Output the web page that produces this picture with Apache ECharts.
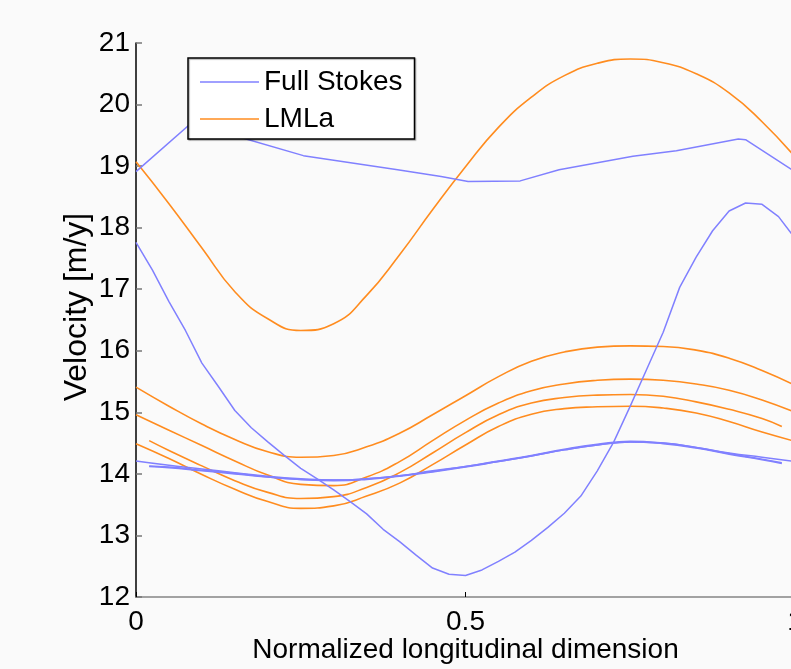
<!DOCTYPE html>
<html>
<head>
<meta charset="utf-8">
<script src="https://cdn.jsdelivr.net/npm/echarts@6/dist/echarts.min.js"></script>
<style>
  html, body { margin: 0; padding: 0; background: #fafafa; }
  #chart { width: 791px; height: 669px; }
</style>
</head>
<body>
<div id="chart"></div>
<script>
// Sample positions along the normalized longitudinal dimension
const xGrid = [0, 0.05, 0.10, 0.15, 0.20, 0.25, 0.30, 0.35, 0.40, 0.45, 0.50,
               0.55, 0.60, 0.65, 0.70, 0.75, 0.80, 0.85, 0.90, 0.95, 1.00];
const xShort = [0.02, 0.05, 0.10, 0.15, 0.20, 0.25, 0.30, 0.35, 0.40, 0.45, 0.50,
                0.55, 0.60, 0.65, 0.70, 0.75, 0.80, 0.85, 0.90, 0.95, 0.98];
const xDip = [0, 0.025, 0.05, 0.075, 0.10, 0.125, 0.15, 0.175, 0.20, 0.225, 0.25,
              0.275, 0.30, 0.325, 0.35, 0.375, 0.40, 0.425, 0.45, 0.475, 0.50,
              0.525, 0.55, 0.575, 0.60, 0.625, 0.65, 0.675, 0.70, 0.725, 0.75,
              0.775, 0.80, 0.825, 0.85, 0.875, 0.90, 0.925, 0.95, 0.975, 1.00];
const xTop = [0, 0.10, 0.154, 0.254, 0.397, 0.463, 0.504, 0.583, 0.642, 0.754, 0.82, 0.914, 0.925, 1.00];

// Full Stokes velocities [m/y]
const fsTop = [18.91, 19.85, 19.48, 19.17, 18.94, 18.83, 18.75, 18.76, 18.94, 19.16, 19.25, 19.44, 19.43, 18.91];
const fsDip = [17.76, 17.31, 16.80, 16.33, 15.80, 15.42, 15.03, 14.75, 14.52, 14.30, 14.09,
               13.92, 13.74, 13.55, 13.35, 13.10, 12.90, 12.68, 12.47, 12.37, 12.35,
               12.44, 12.58, 12.73, 12.92, 13.13, 13.36, 13.64, 14.05, 14.52, 15.10,
               15.70, 16.30, 17.03, 17.52, 17.95, 18.27, 18.40, 18.38, 18.18, 17.83];
const fsFlatA = [14.21, 14.14, 14.08, 14.02, 13.96, 13.92, 13.90, 13.92, 13.97, 14.04, 14.12,
                 14.20, 14.29, 14.39, 14.47, 14.52, 14.50, 14.43, 14.34, 14.27, 14.20];
const fsFlatB = [14.13, 14.11, 14.06, 14.01, 13.95, 13.91, 13.89, 13.91, 13.96, 14.03, 14.11,
                 14.20, 14.29, 14.39, 14.47, 14.52, 14.49, 14.42, 14.32, 14.23, 14.17];
const fsFlatC = [14.12, 14.10, 14.05, 14.00, 13.95, 13.91, 13.90, 13.92, 13.97, 14.05, 14.12,
                 14.21, 14.30, 14.40, 14.48, 14.53, 14.50, 14.43, 14.33, 14.24, 14.18];

// LMLa velocities [m/y]
const lmlaA = [19.07, 18.39, 17.67, 16.96, 16.52, 16.33, 16.44, 16.90, 17.56, 18.29, 18.99,
               19.63, 20.12, 20.47, 20.67, 20.74, 20.68, 20.50, 20.19, 19.72, 19.15];
const lmlaB = [15.41, 15.10, 14.81, 14.56, 14.36, 14.27, 14.30, 14.44, 14.66, 14.96, 15.27,
               15.58, 15.83, 15.98, 16.06, 16.08, 16.07, 16.01, 15.88, 15.68, 15.44];
const lmlaC = [14.96, 14.71, 14.46, 14.21, 13.98, 13.83, 13.81, 13.95, 14.20, 14.54, 14.87,
               15.15, 15.35, 15.46, 15.52, 15.54, 15.52, 15.46, 15.36, 15.20, 15.00];
const lmlaD = [14.54, 14.38, 14.13, 13.89, 13.70, 13.60, 13.63, 13.78, 14.02, 14.34, 14.67,
               14.96, 15.15, 15.24, 15.28, 15.29, 15.26, 15.17, 15.05, 14.90, 14.77];
const lmlaE = [14.49, 14.25, 13.99, 13.75, 13.55, 13.44, 13.48, 13.64, 13.85, 14.15, 14.47,
               14.77, 14.97, 15.06, 15.09, 15.10, 15.07, 14.99, 14.85, 14.68, 14.53];

const xTicks = [0, 0.5, 1];
const yTicks = [12, 13, 14, 15, 16, 17, 18, 19, 20, 21];

const BLUE = '#8080ff';
const ORANGE = '#ff8c1f';
const FONT = '"Liberation Sans", Arial, Helvetica, sans-serif';

function pairs(xs, ys) { return xs.map((x, i) => [x, ys[i]]); }

function line(name, xs, ys, color, width, smooth) {
  return {
    name: name,
    type: 'line',
    data: pairs(xs, ys),
    symbol: 'none',
    smooth: smooth,
    lineStyle: { color: color, width: width },
    itemStyle: { color: color },
    emphasis: { disabled: true },
    animation: false
  };
}

const chart = echarts.init(document.getElementById('chart'), null, { renderer: 'canvas' });

chart.setOption({
  backgroundColor: '#fafafa',
  animation: false,
  textStyle: { fontFamily: FONT },
  grid: {
    left: 136, right: -4, top: 43, bottom: 72,
    containLabel: false,
    outerBoundsMode: 'none'
  },
  legend: {
    data: ['Full Stokes', 'LMLa'],
    orient: 'vertical',
    left: 188,
    top: 58,
    padding: [10, 12, 6, 12],
    itemGap: 9,
    itemWidth: 59,
    itemHeight: 14,
    icon: 'path://M0,0 L59,0 L59,1.5 L0,1.5 Z',
    backgroundColor: '#ffffff',
    borderColor: '#000000',
    borderWidth: 1.5,
    borderRadius: 0,
    shadowColor: 'rgba(0,0,0,0.35)',
    shadowOffsetX: 1,
    shadowOffsetY: 1,
    shadowBlur: 1,
    textStyle: { fontFamily: FONT, fontSize: 28, color: '#000' },
    selectedMode: false
  },
  xAxis: {
    type: 'value',
    min: 0,
    max: 1,
    interval: 0.5,
    name: 'Normalized longitudinal dimension',
    nameLocation: 'middle',
    nameGap: 39,
    nameMoveOverlap: false,
    nameTextStyle: { fontFamily: FONT, fontSize: 28, color: '#000' },
    axisLine: { show: true, onZero: false, lineStyle: { color: '#858585', width: 1.5 } },
    axisTick: { show: true, inside: true, length: 5, lineStyle: { color: '#000', width: 1 } },
    axisLabel: {
      fontFamily: FONT, fontSize: 28, color: '#000', margin: 11,
      showMaxLabel: true,
      formatter: v => (xTicks.includes(v) ? String(v) : '')
    },
    splitLine: { show: false }
  },
  yAxis: {
    type: 'value',
    min: 12,
    max: 21,
    interval: 1,
    name: 'Velocity [m/y]',
    nameLocation: 'middle',
    nameGap: 43,
    nameMoveOverlap: false,
    nameTextStyle: { fontFamily: FONT, fontSize: 32, color: '#000', padding: [0, 0, 0, 26] },
    axisLine: { show: true, onZero: false, lineStyle: { color: '#000', width: 1.5 } },
    axisTick: { show: true, inside: true, length: 6, lineStyle: { color: '#777', width: 1.5 } },
    axisLabel: {
      fontFamily: FONT, fontSize: 28, color: '#000', margin: 6,
      formatter: v => (yTicks.includes(v) ? String(v) : '')
    },
    splitLine: { show: false }
  },
  series: [
    // LMLa drawn first so the Full Stokes curves sit on top
    line('LMLa', xGrid, lmlaA, ORANGE, 1.6, true),
    line('LMLa', xGrid, lmlaB, ORANGE, 1.6, true),
    line('LMLa', xGrid, lmlaC, ORANGE, 1.6, true),
    line('LMLa', xShort, lmlaD, ORANGE, 1.6, true),
    line('LMLa', xGrid, lmlaE, ORANGE, 1.6, true),
    line('Full Stokes', xTop, fsTop, BLUE, 1.5, false),
    line('Full Stokes', xDip, fsDip, BLUE, 1.5, false),
    line('Full Stokes', xGrid, fsFlatA, BLUE, 1.5, true),
    line('Full Stokes', xShort, fsFlatB, BLUE, 1.5, true),
    line('Full Stokes', xShort, fsFlatC, BLUE, 1.5, true)
  ]
});
</script>
</body>
</html>
